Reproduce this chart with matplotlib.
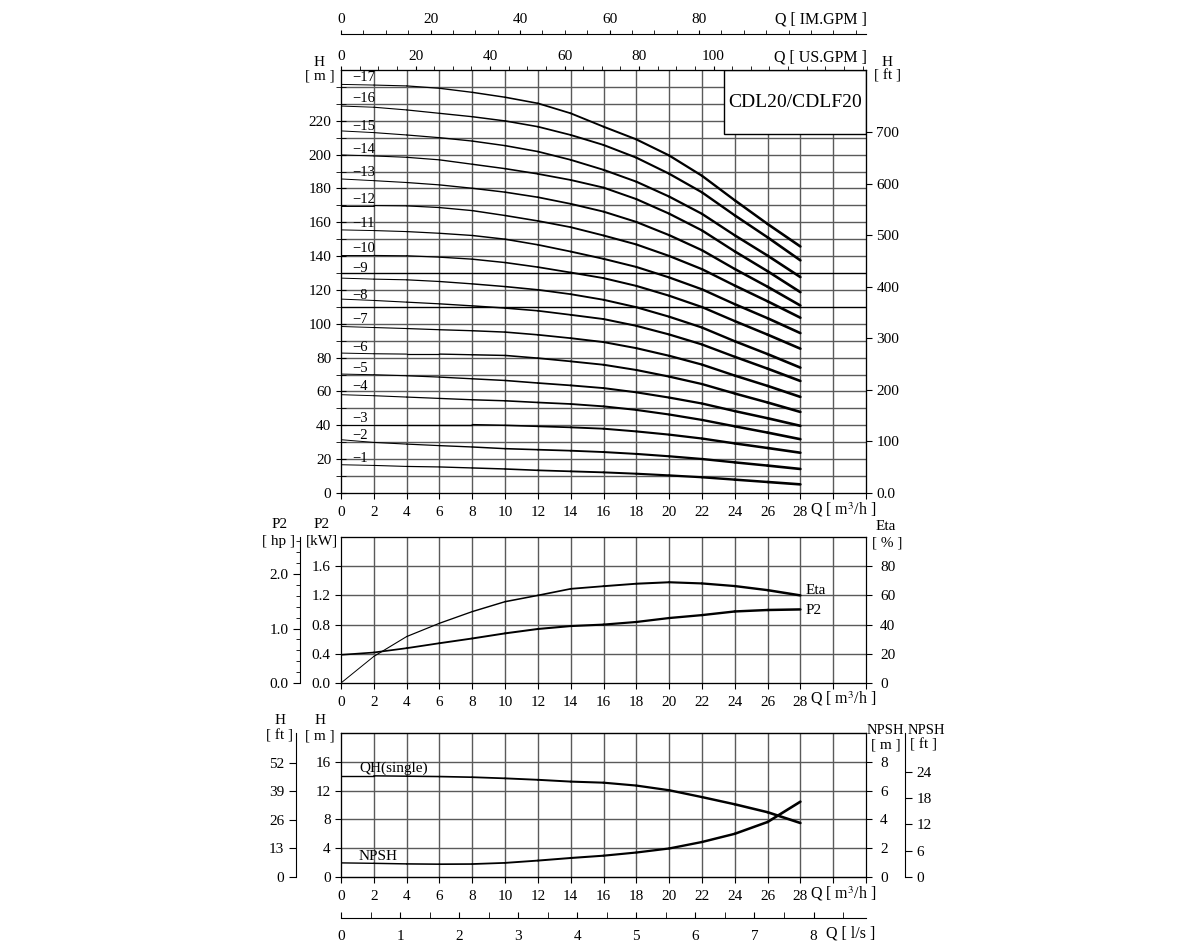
import numpy as np
import matplotlib.pyplot as plt
from matplotlib.patches import Rectangle
from matplotlib.collections import LineCollection

plt.rcParams['font.family'] = ['Liberation Serif', 'DejaVu Serif']
plt.rcParams['mathtext.fontset'] = 'stix'
plt.rcParams['font.size'] = 11

# ---- data (flow in m3/h) ----
q_stage = [0, 2, 4, 6, 8, 10, 12, 14, 16, 18, 20, 22, 24, 26, 28]
stage_names = ['\u2212%d' % n for n in range(1, 18)]
stage_heads = [
    [16.7, 16.3, 15.7, 15.4, 14.8, 14.2, 13.4, 12.8, 12.2, 11.4, 10.4, 9.3, 7.9, 6.5, 5.1],
    [31.5, 29.9, 28.9, 28.0, 27.2, 26.2, 25.6, 25.0, 24.2, 23.1, 21.7, 20.1, 18.1, 16.2, 14.2],
    [40.4, 40.4, 40.4, 40.4, 40.4, 40.0, 39.4, 38.8, 38.0, 36.4, 34.5, 32.2, 29.3, 26.6, 23.8],
    [58.1, 57.5, 56.7, 55.9, 55.1, 54.5, 53.5, 52.6, 51.2, 49.1, 46.4, 43.2, 39.4, 35.7, 31.8],
    [70.3, 69.9, 69.3, 68.5, 67.5, 66.5, 65.0, 63.6, 62.0, 59.5, 56.4, 52.9, 48.4, 44.2, 39.7],
    [82.7, 82.3, 82.1, 82.1, 81.7, 81.3, 79.7, 77.8, 75.8, 72.7, 68.8, 64.4, 58.8, 53.5, 47.9],
    [98.4, 97.8, 97.2, 96.5, 95.9, 95.1, 93.5, 91.5, 89.2, 85.6, 81.1, 75.9, 69.4, 63.3, 56.8],
    [114.6, 113.8, 112.8, 111.8, 110.6, 109.3, 107.7, 105.3, 102.8, 98.8, 93.7, 87.8, 80.5, 73.5, 66.2],
    [127.0, 126.4, 126.0, 125.0, 123.6, 122.0, 120.1, 117.5, 114.2, 109.8, 104.2, 97.8, 89.7, 82.1, 74.1],
    [140.4, 140.4, 140.2, 139.4, 138.2, 136.2, 133.5, 130.3, 127.0, 122.4, 116.6, 109.9, 101.6, 93.6, 85.3],
    [155.5, 155.1, 154.5, 153.5, 152.2, 150.0, 146.7, 142.7, 138.4, 133.6, 127.4, 120.4, 111.6, 103.3, 94.5],
    [169.9, 169.9, 169.7, 168.7, 166.9, 164.0, 160.8, 157.1, 152.2, 146.9, 140.1, 132.3, 122.6, 113.3, 103.6],
    [185.6, 184.6, 183.5, 182.1, 180.1, 177.8, 174.8, 170.9, 166.3, 160.2, 152.4, 143.5, 132.4, 121.9, 110.8],
    [199.8, 199.2, 198.4, 196.9, 194.3, 191.7, 188.6, 185.0, 180.5, 173.7, 165.1, 155.2, 142.8, 131.1, 118.7],
    [214.0, 213.0, 211.6, 210.0, 208.0, 205.3, 201.8, 196.9, 191.0, 184.0, 175.2, 165.0, 152.3, 140.3, 127.6],
    [228.7, 228.0, 226.4, 224.4, 222.4, 219.9, 216.5, 211.6, 205.7, 198.2, 188.7, 177.7, 164.1, 151.1, 137.5],
    [241.5, 241.1, 240.6, 239.2, 236.8, 233.9, 230.3, 224.4, 216.5, 209.0, 199.5, 187.5, 173.0, 159.0, 145.7],
]
stage_label_h = [20.1, 33.9, 43.9, 63.0, 73.4, 86.2, 102.4, 116.7, 132.9, 144.3,
                 159.4, 173.6, 189.6, 202.8, 216.5, 233.0, 245.5]

q_perf = [0, 2, 4, 6, 8, 10, 12, 14, 16, 18, 20, 22, 24, 26, 28]
p2_kw = [0.386, 0.418, 0.477, 0.545, 0.61, 0.68, 0.74, 0.78, 0.80, 0.836, 0.89, 0.93, 0.98, 1.0, 1.008]
eta_pct = [0, 18.2, 31.8, 40.9, 48.9, 55.7, 60.0, 64.5, 66.3, 68.0, 69.0, 68.2, 66.4, 63.6, 60.0]

qh_single = [14.05, 14.05, 14.0, 13.95, 13.86, 13.7, 13.5, 13.25, 13.1, 12.7, 12.05, 11.1, 10.1, 9.0, 7.5]
npsh_m = [0.98, 0.95, 0.91, 0.89, 0.9, 0.98, 1.14, 1.32, 1.48, 1.7, 1.98, 2.43, 3.0, 3.82, 5.23]

M_FT = 0.3048
US_GPM = 0.2271
IM_GPM = 0.2728
LPS = 3.6
HP_KW = 0.7457
QMAX = 32

GRID = '#5a5a5a'
W, H = 1200, 950

fig = plt.figure(figsize=(12, 9.5), dpi=100)


def box(top, bottom):
    return [341 / W, 1 - bottom / H, 525 / W, (bottom - top) / H]


def ftxt(px, py, s, ha='center', **kw):
    fig.text(px / W, 1 - py / H, s, ha=ha, va='center', **kw)


def curve(ax, x, y, w0=0.7, w1=1.8):
    # pen gets heavier toward the right, as on the printed chart
    pts = np.column_stack([x, y])
    segs = [pts[i:i + 2] for i in range(len(pts) - 1)]
    lc = LineCollection(segs, linewidths=np.linspace(w0, w1, len(segs)),
                        colors='black', capstyle='round', zorder=2)
    ax.add_collection(lc)


def q_axis(ax, ypx):
    ax.set_xlim(0, QMAX)
    ax.set_xticks(range(0, QMAX + 1, 2))
    ax.set_xticklabels([str(v) if v <= 28 else '' for v in range(0, QMAX + 1, 2)])
    ax.tick_params(axis='x', direction='out', length=4, pad=5)
    for x in range(2, QMAX, 2):
        ax.axvline(x, color=GRID, lw=1.0, zorder=1)
    ftxt(810, ypx + 1, 'Q [ m$^3$/h ]', ha='left', fontsize=11.5)


# ---- main head chart ----
ax1 = fig.add_axes(box(70, 493))
q_axis(ax1, 509)
ax1.set_ylim(0, 250)
ax1.set_yticks(range(0, 221, 20))
ax1.set_yticks(range(10, 250, 10), minor=True)
ax1.tick_params(axis='y', which='both', direction='inout', length=7)
for y in range(10, 250, 10):
    dark = y in (110, 130)
    ax1.axhline(y, color='black' if dark else GRID, lw=1.0, zorder=1)
for heads, name, lh in zip(stage_heads, stage_names, stage_label_h):
    curve(ax1, q_stage, heads, 0.7, 1.9)
    ax1.text(0.7, lh, name, fontsize=10.5, va='center', ha='left', zorder=2)
ax1.add_patch(Rectangle((23.37, 212.3), QMAX - 23.37, 37.7, facecolor='white',
                        edgecolor='black', lw=1.0, zorder=3))
ax1.text(27.7, 230.5, 'CDL20/CDLF20', fontsize=14, ha='center', va='center', zorder=4)

ax1f = ax1.twinx()
ax1f.set_ylim(0, 250 / M_FT)
ax1f.set_yticks(range(0, 701, 100))
ax1f.set_yticklabels(['0.0'] + [str(v) for v in range(100, 701, 100)])
ax1f.tick_params(direction='out', length=4)

ax1u = ax1.twiny()
ax1u.set_xlim(0, QMAX / US_GPM)
ax1u.set_xticks(range(0, 101, 20))
ax1u.set_xticks(range(0, 141, 5), minor=True)
ax1u.tick_params(which='both', direction='out', length=3, pad=2)

ftxt(319, 63, 'H')
ftxt(320, 76, '[ m ]')
ftxt(887, 63, 'H')
ftxt(887, 76, '[ ft ]')
ftxt(867, 57, 'Q [ US.GPM ]', ha='right', fontsize=11.5)

# imperial gpm scale on top
axi = fig.add_axes([341 / W, 1 - 34 / H, 525 / W, 0.0001])
axi.set_xlim(0, QMAX / IM_GPM)
for s in ('left', 'right', 'bottom'):
    axi.spines[s].set_visible(False)
axi.set_yticks([])
axi.xaxis.set_ticks_position('top')
axi.set_xticks(range(0, 81, 20))
axi.set_xticks(range(0, 116, 5), minor=True)
axi.tick_params(which='both', direction='out', length=3, pad=3)
ftxt(867, 20, 'Q [ IM.GPM ]', ha='right', fontsize=11.5)

# ---- power / efficiency chart ----
ax2 = fig.add_axes(box(537, 683))
q_axis(ax2, 698)
ax2.set_ylim(0, 2.0)
ax2.set_yticks([0, 0.4, 0.8, 1.2, 1.6])
ax2.set_yticklabels(['0.0', '0.4', '0.8', '1.2', '1.6'])
ax2.tick_params(axis='y', direction='out', length=4)
for y in (0.4, 0.8, 1.2, 1.6):
    ax2.axhline(y, color=GRID, lw=1.0, zorder=1)
curve(ax2, q_perf, p2_kw, 1.2, 1.8)

ax2e = ax2.twinx()
ax2e.set_ylim(0, 100)
ax2e.set_yticks(range(0, 81, 20))
ax2e.tick_params(direction='out', length=4, pad=6)
curve(ax2e, q_perf, eta_pct, 0.7, 1.8)

ax2h = ax2.twinx()
ax2h.set_ylim(0, 2.0 / HP_KW)
ax2h.spines['left'].set_position(('outward', 29.5))
ax2h.spines['left'].set_visible(True)
ax2h.spines['right'].set_visible(False)
ax2h.yaxis.set_ticks_position('left')
ax2h.set_yticks([0, 1, 2])
ax2h.set_yticklabels(['0.0', '1.0', '2.0'])
ax2h.set_yticks([i * 0.2 for i in range(14)], minor=True)
ax2h.tick_params(which='major', direction='out', length=5)
ax2h.tick_params(which='minor', direction='out', length=3)

ftxt(280, 525, 'P2')
ftxt(279, 541, '[ hp ]')
ftxt(322, 525, 'P2')
ftxt(322, 541, '[kW]')
ftxt(886, 527, 'Eta')
ftxt(887, 543, '[ % ]')
ftxt(806, 590, 'Eta', ha='left')
ftxt(806, 611, 'P2', ha='left')

# ---- single stage head / NPSH chart ----
ax3 = fig.add_axes(box(733, 877))
q_axis(ax3, 893)
ax3.set_ylim(0, 20)
ax3.set_yticks(range(0, 17, 4))
ax3.tick_params(axis='y', direction='out', length=4)
for y in (4, 8, 12, 16):
    ax3.axhline(y, color=GRID, lw=1.0, zorder=1)
curve(ax3, q_perf, qh_single, 1.0, 1.9)

ax3n = ax3.twinx()
ax3n.set_ylim(0, 10)
ax3n.set_yticks(range(0, 9, 2))
ax3n.tick_params(direction='out', length=4, pad=6)
curve(ax3n, q_perf, npsh_m, 1.0, 1.9)

ax3f = ax3.twinx()
ax3f.set_ylim(0, 20 / M_FT)
ax3f.spines['left'].set_position(('outward', 32.4))
ax3f.spines['left'].set_visible(True)
ax3f.spines['right'].set_visible(False)
ax3f.yaxis.set_ticks_position('left')
ax3f.set_yticks(range(0, 53, 13))
ax3f.tick_params(direction='out', length=5)

ax3g = ax3.twinx()
ax3g.set_ylim(0, 10 / M_FT)
ax3g.spines['right'].set_position(('outward', 28))
ax3g.set_yticks(range(0, 25, 6))
ax3g.tick_params(direction='out', length=5)

ftxt(280, 721, 'H')
ftxt(280, 736, '[ ft ]')
ftxt(320, 721, 'H')
ftxt(320, 736, '[ m ]')
ftxt(885, 730, 'NPSH', fontsize=10.5)
ftxt(886, 745, '[ m ]')
ftxt(926, 730, 'NPSH', fontsize=10.5)
ftxt(924, 745, '[ ft ]')
ftxt(359, 768, 'QH(single)', ha='left')
ftxt(359, 856, 'NPSH', ha='left')

# l/s scale at the bottom
axl = fig.add_axes([341 / W, 1 - 918 / H, 525 / W, 0.0001])
axl.set_xlim(0, QMAX / LPS)
for s in ('left', 'right', 'top'):
    axl.spines[s].set_visible(False)
axl.set_yticks([])
axl.set_xticks(range(0, 9))
axl.set_xticks([i * 0.5 for i in range(18)], minor=True)
axl.tick_params(which='both', direction='in', length=4, pad=9)
ftxt(826, 934, 'Q [ l/s ]', ha='left', fontsize=11.5)

fig.savefig('out.png', dpi=100)
